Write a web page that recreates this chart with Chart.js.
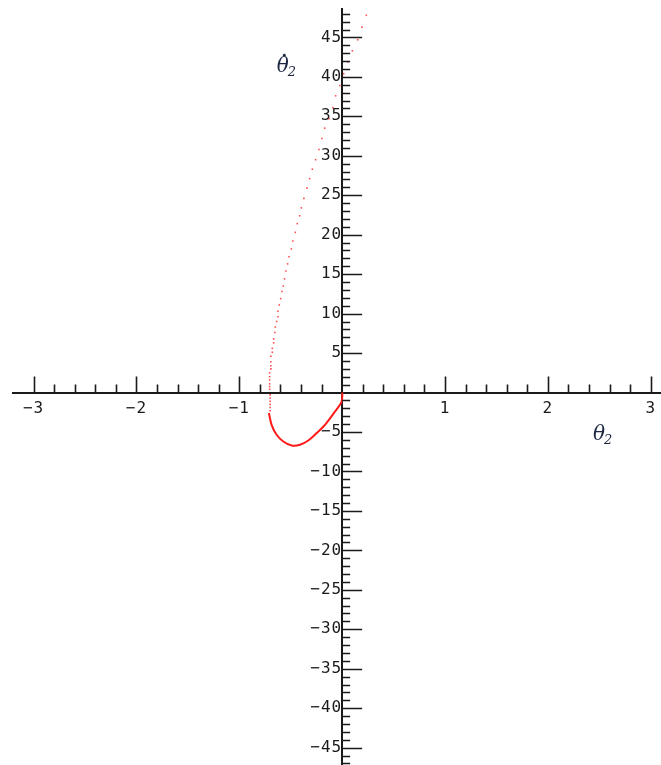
<!DOCTYPE html>
<html>
<head>
<meta charset="utf-8">
<script src="https://cdn.jsdelivr.net/npm/chart.js@4/dist/chart.umd.min.js"></script>
<style>
  body { margin: 0; background: #fff; }
  canvas { display: block; }
</style>
</head>
<body>
<canvas id="phase" width="661" height="765"></canvas>
<script>
// sparse dots: swing from theta2 min up to the top of the plot
var dotTheta = [
  -0.70, -0.70, -0.70, -0.70, -0.70, -0.70,
  -0.705, -0.705, -0.705, -0.705, -0.705, -0.705,
  -0.693, -0.693, -0.693, -0.693, -0.679, -0.679, -0.666, -0.666,
  -0.654, -0.650, -0.637, -0.624, -0.624, -0.611, -0.598, -0.586,
  -0.572, -0.560, -0.547, -0.530, -0.517, -0.494, -0.479, -0.455,
  -0.436, -0.413, -0.397, -0.372, -0.342, -0.316, -0.290, -0.258,
  -0.226, -0.196, -0.170, -0.128, -0.090, -0.063, -0.024, 0.015,
  0.057, 0.099, 0.151, 0.193, 0.235
];
var dotOmega = [
  -2.3, -1.9, -1.5, -1.1, -0.7, -0.3,
  0.43, 0.76, 1.1, 1.6, 2.0, 2.5,
  3.0, 3.4, 3.9, 4.6, 5.1, 5.6, 6.3, 6.8,
  7.6, 8.3, 9.0, 9.6, 10.3, 11.1, 11.9, 12.8,
  13.5, 14.4, 15.4, 16.3, 17.2, 18.2, 19.2, 20.3,
  21.4, 22.4, 23.4, 24.6, 25.9, 27.1, 28.3, 29.5,
  30.8, 32.2, 33.5, 34.7, 36.1, 37.6, 38.9, 40.4,
  41.9, 43.3, 44.7, 46.3, 47.8
];

// dense part near the start, seen as a solid curve
var curveTheta = [-0.712, -0.686, -0.637, -0.572, -0.491, -0.41, -0.329, -0.248, -0.167, -0.086, -0.005, 0.002];
var curveOmega = [-2.6, -4.09, -5.35, -6.2, -6.71, -6.62, -6.08, -5.14, -4.09, -2.7, -1.14, 0];

var xRange = [-3.2, 3.1];
var yRange = [-47.2, 48.6];
var xStep = 0.2, yStep = 1;
var xMajor = 1, yMajor = 5;

function toPoints(xs, ys) {
  return xs.map(function (v, i) { return { x: v, y: ys[i] }; });
}
function isMultiple(v, step) {
  var q = v / step;
  return Math.abs(q - Math.round(q)) < 1e-6;
}
function fmt(n) {
  return n < 0 ? '\u2212' + (-n) : String(n);
}
// the axes cross inside the plot, so they should not eat any room
function noPadding(s) {
  s.paddingLeft = s.paddingRight = s.paddingTop = s.paddingBottom = 0;
}

var ink = '#1a1a1a';
var tickFont = { family: 'DejaVu Sans Mono', size: 16 };

var axisMarks = {
  id: 'axisMarks',
  beforeDraw: function (chart) {
    // slightly spread tick numbers, like the old bitmap font
    chart.ctx.letterSpacing = '1px';
  },
  afterDraw: function (chart) {
    var ctx = chart.ctx;
    var x = chart.scales.x, y = chart.scales.y;
    var x0 = x.getPixelForValue(0), y0 = y.getPixelForValue(0);
    ctx.save();
    ctx.letterSpacing = '0px';
    ctx.strokeStyle = ink;
    ctx.lineWidth = 1.6;
    ctx.beginPath();
    x.ticks.forEach(function (t) {
      if (!isMultiple(t.value, xStep) || Math.abs(t.value) < 1e-6) return;
      if (t.value <= xRange[0] + 1e-6) return;
      var px = Math.round(x.getPixelForValue(t.value)) + 0.5;
      var len = isMultiple(t.value, xMajor) ? 16 : 8;
      ctx.moveTo(px, y0);
      ctx.lineTo(px, y0 - len);
    });
    y.ticks.forEach(function (t) {
      if (!isMultiple(t.value, yStep) || Math.abs(t.value) < 1e-6) return;
      var py = Math.round(y.getPixelForValue(t.value)) + 0.5;
      var len = isMultiple(t.value, yMajor) ? 20 : 8;
      ctx.moveTo(x0, py);
      ctx.lineTo(x0 + len, py);
    });
    ctx.stroke();

    // axis titles
    ctx.fillStyle = '#1c2640';
    ctx.textBaseline = 'alphabetic';
    ctx.textAlign = 'left';
    var tx = x.getPixelForValue(-0.635), ty = y.getPixelForValue(40.6);
    ctx.font = 'italic 20px "DejaVu Serif"';
    ctx.fillText('\u03b8', tx, ty);
    ctx.beginPath();
    ctx.arc(tx + 7.5, ty - 17, 1.4, 0, Math.PI * 2);
    ctx.fill();
    ctx.font = 'italic 13px "DejaVu Serif"';
    ctx.fillText('2', tx + 11, ty + 4);

    var sx = x.getPixelForValue(2.44), sy = y.getPixelForValue(-6.0);
    ctx.font = 'italic 20px "DejaVu Serif"';
    ctx.fillText('\u03b8', sx, sy);
    ctx.font = 'italic 13px "DejaVu Serif"';
    ctx.fillText('2', sx + 11, sy + 4);
    ctx.restore();
  }
};

new Chart(document.getElementById('phase'), {
  type: 'scatter',
  data: {
    datasets: [{
      label: 'dots',
      data: toPoints(dotTheta, dotOmega),
      showLine: false,
      pointStyle: 'rect',
      pointRadius: 1.1,
      pointBorderWidth: 0,
      backgroundColor: 'rgba(255, 30, 30, 0.8)'
    }, {
      label: 'curve',
      data: toPoints(curveTheta, curveOmega),
      showLine: true,
      tension: 0.3,
      pointRadius: 0,
      borderColor: '#ff1a1a',
      borderWidth: 2
    }]
  },
  options: {
    responsive: false,
    animation: false,
    layout: { autoPadding: false, padding: { left: 13, top: 9, right: -4, bottom: -4 } },
    plugins: {
      legend: { display: false },
      tooltip: { enabled: false }
    },
    scales: {
      x: {
        type: 'linear',
        position: { y: 0 },
        min: xRange[0],
        max: xRange[1],
        afterFit: noPadding,
        grid: { display: false, drawTicks: false },
        border: { display: true, color: ink, width: 2 },
        ticks: {
          stepSize: xStep,
          includeBounds: false,
          autoSkip: false,
          maxRotation: 0,
          padding: 7,
          color: ink,
          font: tickFont,
          callback: function (v) {
            return isMultiple(v, xMajor) && Math.round(v) !== 0 ? fmt(Math.round(v)) : '';
          }
        }
      },
      y: {
        type: 'linear',
        position: { x: 0 },
        min: yRange[0],
        max: yRange[1],
        afterFit: noPadding,
        grid: { display: false, drawTicks: false },
        border: { display: true, color: ink, width: 2 },
        ticks: {
          stepSize: yStep,
          includeBounds: false,
          autoSkip: false,
          padding: 3,
          color: ink,
          font: tickFont,
          callback: function (v) {
            return isMultiple(v, yMajor) && Math.round(v) !== 0 ? fmt(Math.round(v)) : '';
          }
        }
      }
    }
  },
  plugins: [axisMarks]
});
</script>
</body>
</html>
